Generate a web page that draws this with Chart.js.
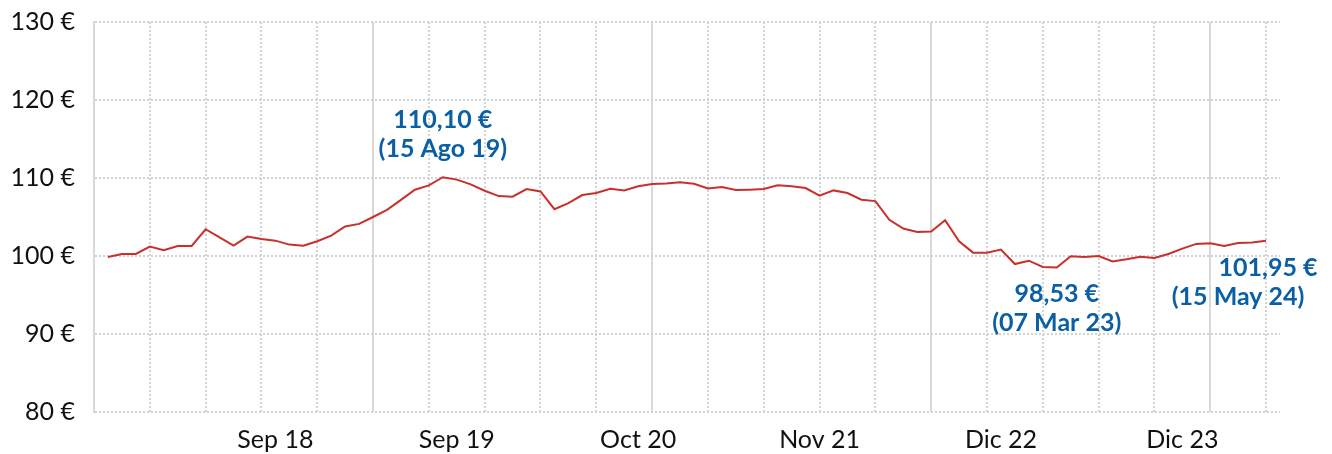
<!DOCTYPE html>
<html>
<head>
<meta charset="utf-8">
<script src="https://cdn.jsdelivr.net/npm/chart.js@4.4.1/dist/chart.umd.min.js"></script>
<style>
  html, body { margin: 0; padding: 0; background: #ffffff; }
  #wrap { width: 1332px; height: 454px; position: relative; }
</style>
</head>
<body>
<div id="wrap"><canvas id="c"></canvas></div>
<script>
// ---- data ----
const values = [
  99.87, 100.26, 100.26, 101.20, 100.73, 101.29, 101.29, 103.43, 102.38, 101.33,
  102.49, 102.19, 101.97, 101.46, 101.33, 101.89, 102.62, 103.78, 104.12, 105.00,
  105.92, 107.20, 108.50, 109.06, 110.10, 109.79, 109.18, 108.37, 107.68, 107.60,
  108.58, 108.28, 106.00, 106.78, 107.81, 108.07, 108.63, 108.41, 108.93, 109.23,
  109.31, 109.44, 109.27, 108.67, 108.84, 108.45, 108.50, 108.58, 109.06, 108.93,
  108.71, 107.73, 108.41, 108.07, 107.21, 107.04, 104.64, 103.52, 103.09, 103.13,
  104.59, 101.89, 100.43, 100.43, 100.82, 98.97, 99.40, 98.60, 98.53, 99.96,
  99.87, 100.00, 99.31, 99.57, 99.91, 99.74, 100.26, 100.94, 101.55, 101.63,
  101.29, 101.67, 101.72, 101.95
];
const periods = values.map((v, i) => i);            // period index of each point
const xTickLabels = ['Sep 18', 'Sep 19', 'Oct 20', 'Nov 21', 'Dic 22', 'Dic 23'];
const xTickAt = [12, 25, 38, 51, 64, 77];            // period index of each label
const yTicks = [80, 90, 100, 110, 120, 130];
const noteAt = [24, 68, 83];
const noteValue = ['110,10 €', '98,53 €', '101,95 €'];
const noteDate = ['(15 Ago 19)', '(07 Mar 23)', '(15 May 24)'];

// ---- chart ----
const FONT = 'Lato, "Open Sans", sans-serif';
const gridTicks = [];
for (let v = 3; v <= 83; v += 4) if ((v + 1) % 20 !== 0) gridTicks.push(v);
const solidTicks = [];
for (let v = 19; v <= 83; v += 20) solidTicks.push(v);
const mainTicks = Array.from(new Set(gridTicks.concat(xTickAt))).sort((a, b) => a - b);

const notesPlugin = {
  id: 'notes',
  afterDatasetsDraw(chart) {
    const { ctx, scales: { x, y } } = chart;
    const offs = [[0, -57, 0, -28], [0, 26, 0, 55], [2, 27, -28, 56]];
    ctx.save();
    ctx.fillStyle = '#0a5fa5';
    ctx.font = 'bold 25px ' + FONT;
    ctx.textAlign = 'center';
    ctx.textBaseline = 'middle';
    noteAt.forEach((idx, k) => {
      const px = x.getPixelForValue(periods[idx]);
      const py = y.getPixelForValue(values[idx]);
      const o = offs[k];
      ctx.fillText(noteValue[k], px + o[0], py + o[1]);
      ctx.fillText(noteDate[k], px + o[2], py + o[3]);
    });
    ctx.restore();
  }
};

new Chart(document.getElementById('c'), {
  type: 'line',
  data: {
    datasets: [{
      data: periods.map((p, i) => ({ x: p, y: values[i] })),
      borderColor: '#c9302c',
      borderWidth: 2,
      pointRadius: 0,
      tension: 0,
      fill: false
    }]
  },
  options: {
    responsive: true,
    maintainAspectRatio: false,
    animation: false,
    layout: { padding: { top: 22, right: 52, left: 0, bottom: 0 } },
    plugins: { legend: { display: false }, tooltip: { enabled: false } },
    scales: {
      x: {
        type: 'linear',
        position: 'bottom',
        min: -1, max: 84,
        afterBuildTicks: s => { s.ticks = mainTicks.map(v => ({ value: v })); },
        afterFit: s => { s.height = 42; },
        ticks: {
          autoSkip: false, maxRotation: 0, padding: 13,
          color: '#111111',
          font: { family: FONT, size: 25 },
          callback: v => { const i = xTickAt.indexOf(v); return i >= 0 ? xTickLabels[i] : ''; }
        },
        grid: {
          drawTicks: false,
          lineWidth: 2,
          color: c => (c.tick && gridTicks.includes(c.tick.value)) ? '#d3d3d3' : 'rgba(0,0,0,0)'
        },
        border: { display: false, dash: [2, 2] }
      },
      xs: {
        type: 'linear',
        position: 'bottom',
        min: -1, max: 84,
        afterBuildTicks: s => { s.ticks = solidTicks.map(v => ({ value: v })); },
        afterFit: s => { s.height = 0; },
        ticks: { display: false },
        grid: { drawTicks: false, lineWidth: 2, color: '#d9d9d9' },
        border: { display: false }
      },
      y: {
        min: 80, max: 130,
        afterBuildTicks: s => { s.ticks = yTicks.map(v => ({ value: v })); },
        afterFit: s => { s.width = 94; s.paddingTop = 12; s.paddingBottom = 12; },
        ticks: {
          padding: 19,
          color: '#111111',
          font: { family: FONT, size: 25 },
          callback: v => v + ' €'
        },
        grid: { drawTicks: false, lineWidth: 2, color: '#d3d3d3' },
        border: { display: true, color: '#d9d9d9', width: 2, dash: [2, 2] }
      }
    }
  },
  plugins: [notesPlugin]
});
</script>
</body>
</html>
